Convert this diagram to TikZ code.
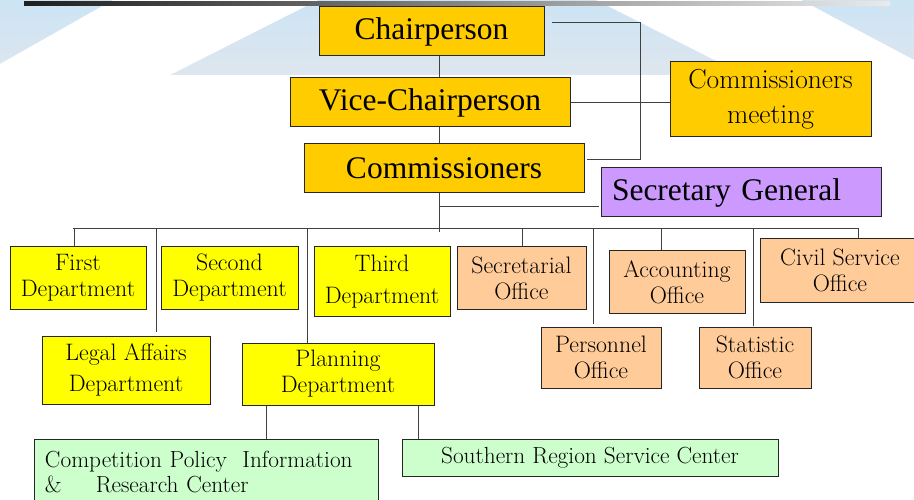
\documentclass[tikz,border=0pt]{standalone}
\usepackage{fontspec}
\usepackage{xcolor}
\usepackage{tikz}
\newfontfamily\timesf{Liberation Serif}

\definecolor{gold}{RGB}{255,204,0}
\definecolor{deptyellow}{RGB}{255,255,0}
\definecolor{peach}{RGB}{255,204,153}
\definecolor{mint}{RGB}{204,255,204}
\definecolor{lilac}{RGB}{204,153,255}
\definecolor{bannerblue}{RGB}{204,228,244}
\definecolor{bannergrey}{RGB}{222,230,238}

\begin{document}
\begin{tikzpicture}[x=1pt, y=-1pt,
    every node/.style={inner sep=0pt},
    topbox/.style={draw=black!85, line width=1pt, fill=gold, font=\timesf\fontsize{31.5}{36}\selectfont},
    deptbox/.style={draw=black!85, line width=1pt, fill=deptyellow, align=center, font=\fontsize{23.8}{26}\selectfont},
    officebox/.style={deptbox, fill=peach},
    centerbox/.style={deptbox, fill=mint},
    link/.style={draw=black!75, line width=0.9pt}]
        \useasboundingbox (0,0) rectangle (914,500);

        % Banner behind the top
        \shade[top color=bannerblue, bottom color=bannergrey] (0,0) rectangle (914,75);
        \fill[white] (113,0) -- (318,0) -- (170,75) -- (0,75) -- (0,64) -- cycle;
        \fill[white] (596,0) -- (801,0) -- (914,60) -- (914,75) -- (744,75) -- cycle;
        \shade[left color=black!88, right color=black!8] (24,2) rectangle (890,6);

        % Top of the chart
        \node[topbox, minimum width=225, minimum height=49] (chair) at (431.5,31.5) {Chairperson};
        \node[topbox, minimum width=280, minimum height=49] (vice) at (430,102.5) {Vice-Chairperson};
        \node[topbox, minimum width=280, minimum height=49] (comm) at (444,168.5) {Commissioners};
        \node[deptbox, fill=gold, minimum width=201, minimum height=75, font=\fontsize{27.5}{35}\selectfont] (meeting) at (770.5,99.5) {Commissioners\\meeting};
        \node[topbox, fill=lilac, minimum height=49, text width=258, align=left, inner xsep=11] (secgen) at (741,192.5) {Secretary General};

        % Departments
        \node[deptbox, minimum width=136, minimum height=62] (first) at (78,278) {First\\Department};
        \node[deptbox, minimum width=137, minimum height=62] (second) at (229.5,278) {Second\\Department};
        \node[deptbox, minimum width=136, minimum height=69, font=\fontsize{23.8}{32}\selectfont] (third) at (382,281.5) {Third\\Department};
        \node[deptbox, minimum width=168, minimum height=68, font=\fontsize{23.8}{31}\selectfont] (legal) at (126,370) {Legal Affairs\\Department};
        \node[deptbox, minimum width=192, minimum height=62] (plan) at (338,374) {Planning\\Department};

        % Offices
        \node[officebox, minimum width=129, minimum height=62] (secr) at (521.5,278) {Secretarial\\Office};
        \node[officebox, minimum width=136, minimum height=62] (acct) at (677,282) {Accounting\\Office};
        \node[officebox, minimum width=160, minimum height=63] (civil) at (840,270.5) {Civil Service\\Office};
        \node[officebox, minimum width=120, minimum height=61] (pers) at (601,357.5) {Personnel\\Office};
        \node[officebox, minimum width=112, minimum height=61] (stat) at (755,357.5) {Statistic\\Office};

        % Centers
        \node[centerbox, minimum height=66, text width=322, align=left, inner xsep=11, font=\fontsize{23.3}{25}\selectfont] (cpirc) at (206,472) {Competition Policy\ \ Information\\\&\hspace{34pt}Research Center};
        \node[centerbox, minimum width=376, minimum height=37, font=\fontsize{23.3}{25}\selectfont] (srsc) at (590,457.5) {Southern Region Service Center};

        % Lines
        \coordinate (spine) at (439,0);
        \draw[link] (chair.south -| spine) -- (vice.north -| spine);
        \draw[link] (vice.south -| spine) -- (comm.north -| spine);
        \draw[link] (comm.south -| spine) -- ++(0,39);
        \draw[link] (vice.east) -- (vice.east -| meeting.west);
        \draw[link] ([shift={(7,-9.5)}]chair.east) -| ([shift={(56,-9.5)}]comm.east) -- ([shift={(2,-9.5)}]comm.east);
        \coordinate (sgtap) at (439,206);
        \draw[link, shorten >=2pt] (sgtap) -- (sgtap -| secgen.west);

        \coordinate (busL) at (73,228);
        \coordinate (busR) at (858,228);
        \draw[link] (busL) -- (busR);
        \foreach \n/\x/\g in {first/74/0, legal/156/4, plan/307/0, secr/522/0, pers/593/3, acct/661/0, stat/753/1, civil/858/0}
            \draw[link, shorten >=\g pt] (\x,228) -- (\n.north -| \x,0);

        \draw[link] (plan.south -| 266,0) -- (cpirc.north -| 266,0);
        \draw[link] (plan.south -| 418,0) -- (srsc.north -| 418,0);

    \end{tikzpicture}
\end{document}
